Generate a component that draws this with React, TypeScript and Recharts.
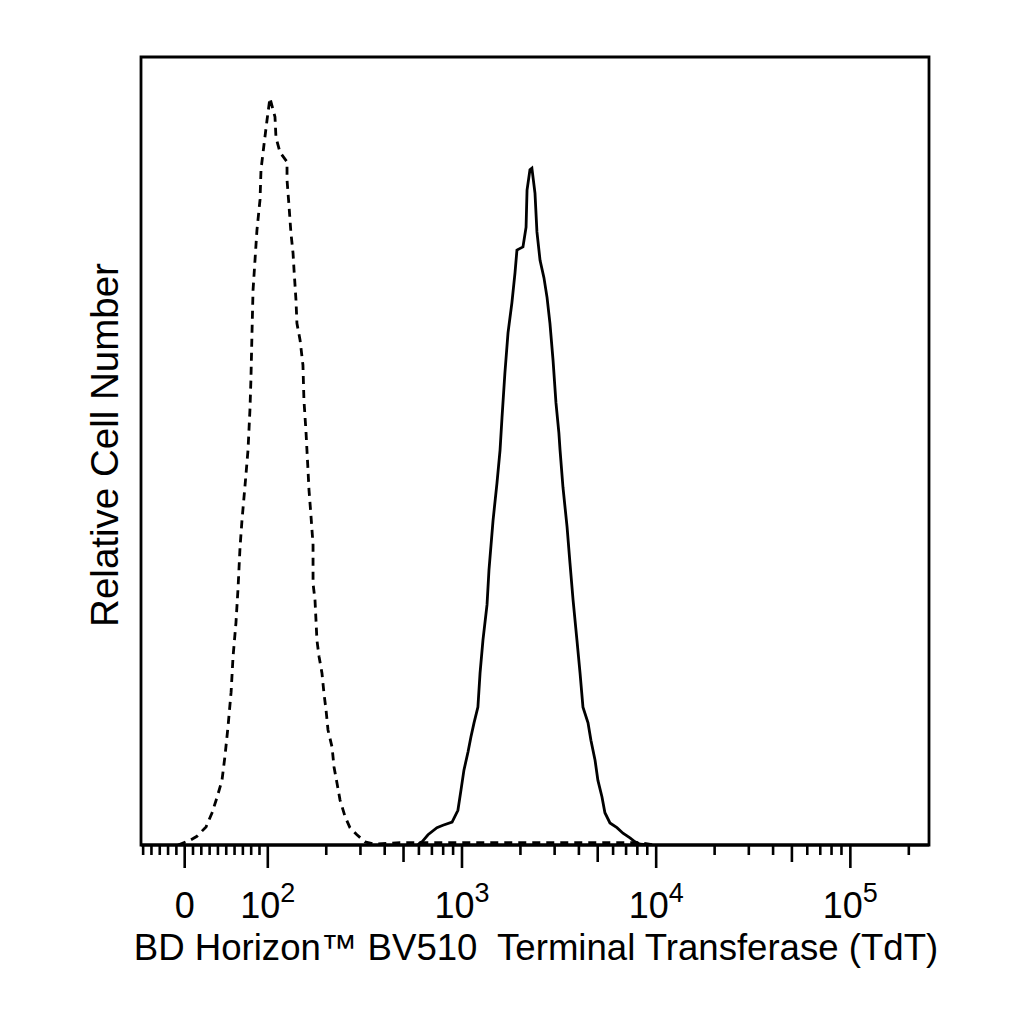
import React from 'react';
import { LineChart, Line, XAxis, YAxis, ReferenceArea } from 'recharts';

const xTitle = 'BD Horizon\u2122 BV510\u00A0 Terminal Transferase (TdT)';
const yTitle = 'Relative Cell Number';

// Isotype control (dashed). x: position on the biexponential axis in decades, y: relative count
const isotypeX = [
  1.538, 1.599, 1.635, 1.682, 1.713, 1.738, 1.764, 1.78, 1.795, 1.811, 1.821, 1.836, 1.847, 1.857,
  1.867, 1.883, 1.898, 1.908, 1.913, 1.919, 1.924, 1.934, 1.944, 1.96, 1.965, 1.98, 1.996, 2.011,
  2.037, 2.042, 2.063, 2.099, 2.099, 2.109, 2.119, 2.13, 2.135, 2.145, 2.15, 2.166, 2.181, 2.186,
  2.197, 2.202, 2.207, 2.212, 2.222, 2.233, 2.233, 2.243, 2.248, 2.253, 2.264, 2.279, 2.289, 2.3,
  2.31, 2.331, 2.341, 2.356, 2.372, 2.398, 2.423, 2.459, 2.5, 2.552, 2.681, 3.917, 3.994,
];
const isotypeY = [
  0, 0.6, 1.1, 2.3, 4.1, 6.0, 8.2, 11.4, 15.0, 19.4, 23.9, 28.2, 32.7, 37.8,
  41.2, 45.7, 50.1, 55.2, 59.0, 65.4, 70.4, 74.2, 78.0, 81.9, 85.7, 88.8, 92.0, 94.8,
  92.4, 89.8, 87.9, 86.7, 84.4, 81.2, 77.7, 75.1, 73.0, 69.2, 66.2, 64.1, 60.9, 56.5,
  52.3, 49.9, 47.6, 45.1, 41.9, 38.1, 33.2, 31.1, 28.6, 26.0, 23.9, 21.8, 19.3, 17.1,
  14.6, 12.4, 9.9, 7.9, 5.7, 3.6, 2.2, 1.3, 0.4, 0.1, 0.3, 0.3, 0,
];

// TdT stained (solid)
const tdtX = [
  2.773, 2.784, 2.794, 2.825, 2.871, 2.902, 2.949, 2.979, 2.995, 3.01, 3.031, 3.046, 3.062, 3.082,
  3.093, 3.108, 3.129, 3.139, 3.16, 3.18, 3.196, 3.206, 3.221, 3.237, 3.257, 3.273, 3.283, 3.314,
  3.33, 3.335, 3.35, 3.36,
  3.376, 3.386, 3.402, 3.422, 3.438, 3.453, 3.469, 3.484, 3.499, 3.505, 3.52, 3.541, 3.556, 3.572,
  3.592, 3.608, 3.623, 3.649, 3.664, 3.685, 3.7, 3.721, 3.736, 3.762, 3.798, 3.829, 3.865, 3.891,
  3.917, 3.968,
];
const tdtY = [
  0, 0.3, 0.4, 1.3, 2.2, 2.5, 2.9, 4.4, 7.0, 9.5, 11.8, 13.7, 15.5, 17.5,
  21.8, 26.0, 30.5, 34.9, 41.2, 45.9, 50.1, 54.2, 59.9, 65.0, 68.8, 72.6, 75.5, 75.9,
  78.4, 83.1, 85.7, 85.9,
  82.7, 77.8, 74.2, 72.0, 69.5, 66.2, 61.5, 56.1, 52.3, 50.1, 45.4, 40.4, 35.8, 31.1,
  26.0, 21.8, 17.5, 15.5, 13.3, 10.8, 8.2, 6.1, 4.1, 2.8, 2.2, 1.5, 0.9, 0.4,
  0.1, 0,
];

// Axis ticks (fluorescence values)
const majorTickValues = [0, 100, 1000, 10000, 100000];
const majorTickBase = ['0', '10', '10', '10', '10'];
const majorTickExp = ['', '2', '3', '4', '5'];
const midTickValues = [500, 5000, 50000];
const minorTickValues = [
  -50, -40, -30, -20, -10, 10, 20, 30, 40, 50, 60, 70, 80, 90,
  200, 300, 400, 600, 700, 800, 900,
  2000, 3000, 4000, 6000, 7000, 8000, 9000,
  20000, 30000, 40000, 60000, 70000, 80000, 90000,
  200000,
];

const X_MIN = 1.347;
const X_MAX = 5.405;
const Y_MAX = 100;

// biexponential-like display transform: linear near zero, log10 above 100
const biex = (v: number) => (v >= 100 ? Math.log10(v) : 1.572 + 0.00428 * v);

type TickMeta = { pos: number; kind: 'major' | 'mid' | 'minor'; base?: string; exp?: string };
const tickMeta: TickMeta[] = [
  ...majorTickValues.map((v, i) => ({ pos: biex(v), kind: 'major' as const, base: majorTickBase[i], exp: majorTickExp[i] })),
  ...midTickValues.map((v) => ({ pos: biex(v), kind: 'mid' as const })),
  ...minorTickValues.map((v) => ({ pos: biex(v), kind: 'minor' as const })),
].filter((t) => t.pos >= X_MIN && t.pos <= X_MAX);
const tickPositions = tickMeta.map((t) => t.pos).sort((a, b) => a - b);

const isotypeData = isotypeX.map((x, i) => ({ x, y: isotypeY[i] }));
const tdtData = tdtX.map((x, i) => ({ x, y: tdtY[i] }));

const FONT = '"Liberation Sans", Arial, Helvetica, sans-serif';
const PLOT_HEIGHT = 788;

const TickMark = (props: any) => {
  const { x, y, payload } = props;
  const v = payload.value as number;
  let meta = tickMeta[0];
  let best = Infinity;
  for (const t of tickMeta) {
    const d = Math.abs(t.pos - v);
    if (d < best) {
      best = d;
      meta = t;
    }
  }
  const len = meta.kind === 'major' ? 23 : meta.kind === 'mid' ? 17 : 10;
  return (
    <g>
      <line x1={x} x2={x} y1={y} y2={y + len} stroke="#000" strokeWidth={2.6} />
      {meta.kind === 'major' && (
        <text x={x} y={y + 73} textAnchor="middle" fontSize={36} fontFamily={FONT} fill="#000">
          <tspan>{meta.base}</tspan>
          {meta.exp ? (
            <tspan dy={-16} fontSize={27}>
              {meta.exp}
            </tspan>
          ) : null}
        </text>
      )}
    </g>
  );
};

const Titles = (props: any) => {
  const vb = props.viewBox || {};
  const cx = vb.x + vb.width / 2 + 1;
  const ty = vb.y + 115;
  const bx = vb.x - 23;
  const cy = vb.y - PLOT_HEIGHT / 2 - 6;
  return (
    <g>
      <text x={cx} y={ty} textAnchor="middle" fontSize={36.6} fontFamily={FONT} fill="#000">
        {xTitle}
      </text>
      <text
        x={bx}
        y={cy}
        transform={`rotate(-90 ${bx} ${cy})`}
        textAnchor="middle"
        fontSize={38.5}
        fontFamily={FONT}
        fill="#000"
      >
        {yTitle}
      </text>
    </g>
  );
};

export default function App() {
  return (
    <div style={{ width: 1008, height: 1008 }}>
      <LineChart width={1008} height={1008} margin={{ top: 49, right: 87, bottom: 0, left: 133 }}>
        <XAxis
          dataKey="x"
          type="number"
          domain={[X_MIN, X_MAX]}
          allowDataOverflow
          ticks={tickPositions}
          interval={0}
          tickSize={0}
          tickMargin={0}
          tickLine={false}
          tick={(p: any) => <TickMark {...p} />}
          axisLine={{ stroke: '#000', strokeWidth: 2.8 }}
          height={171}
          label={{ content: (p: any) => <Titles {...p} /> }}
        />
        <YAxis type="number" domain={[0, Y_MAX]} allowDataOverflow hide width={0} />
        <ReferenceArea
          x1={X_MIN}
          x2={X_MAX}
          y1={0}
          y2={Y_MAX}
          fill="none"
          fillOpacity={0}
          stroke="#000"
          strokeWidth={2.8}
          strokeOpacity={1}
        />
        <Line
          data={isotypeData}
          dataKey="y"
          type="linear"
          stroke="#000"
          strokeWidth={2.8}
          strokeDasharray="8 6"
          dot={false}
          activeDot={false}
          isAnimationActive={false}
        />
        <Line
          data={tdtData}
          dataKey="y"
          type="linear"
          stroke="#000"
          strokeWidth={2.8}
          dot={false}
          activeDot={false}
          isAnimationActive={false}
        />
      </LineChart>
    </div>
  );
}
